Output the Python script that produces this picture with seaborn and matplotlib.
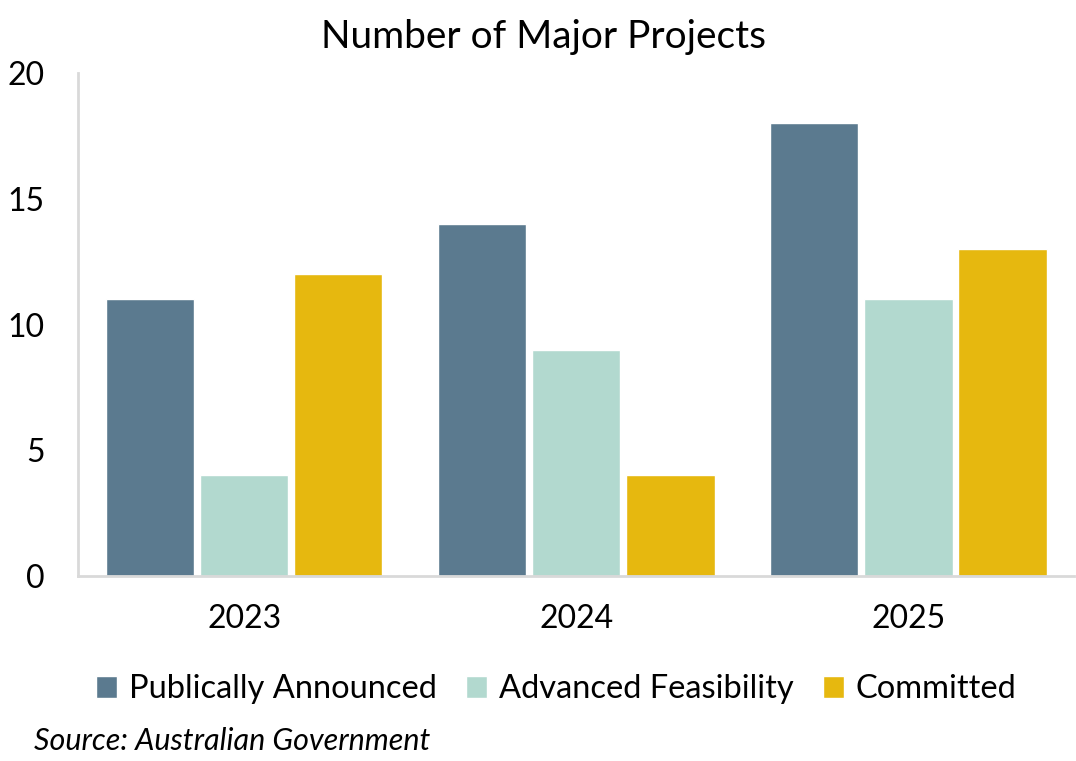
import matplotlib
matplotlib.use('Agg')
import matplotlib.pyplot as plt
import seaborn as sns
import pandas as pd

# data
years = ['2023', '2024', '2025']
publically_announced = [11, 14, 18]
advanced_feasibility = [4, 9, 11]
committed = [12, 4, 13]
series_names = ['Publically Announced', 'Advanced Feasibility', 'Committed']
colors = ['#5b7a8f', '#b2d9cf', '#e6b80f']

rows = []
for name, vals in zip(series_names, [publically_announced, advanced_feasibility, committed]):
    for y, v in zip(years, vals):
        rows.append({'Year': y, 'Stage': name, 'Projects': v})
df = pd.DataFrame(rows)

sns.set_style('white')
plt.rcParams['font.family'] = ['Lato', 'DejaVu Sans']
plt.rcParams['text.color'] = 'black'
plt.rcParams['xtick.color'] = 'black'
plt.rcParams['ytick.color'] = 'black'

fig = plt.figure(figsize=(10.76, 7.61), dpi=100)
ax = fig.add_axes([0.0725, 0.243, 0.926, 0.661])

sns.barplot(data=df, x='Year', y='Projects', hue='Stage', palette=colors,
            width=0.85, gap=0.06, ax=ax, saturation=1, legend=True)

ax.set_ylim(0, 20)
ax.set_xlim(-0.5, 2.5)
ax.set_yticks([0, 5, 10, 15, 20])
ax.set_xlabel('')
ax.set_ylabel('')
ax.tick_params(axis='both', length=0, labelsize=23)
ax.tick_params(axis='x', pad=20)
ax.tick_params(axis='y', pad=24)
for s in ['top', 'right']:
    ax.spines[s].set_visible(False)
for s in ['left', 'bottom']:
    ax.spines[s].set_color('#d9d9d9')
    ax.spines[s].set_linewidth(2)

# title centred on the figure, not the axes
fig.text(0.505, 0.951, 'Number of Major Projects', fontsize=28, ha='center', va='center')

handles, labels = ax.get_legend_handles_labels()
ax.legend(handles, labels, loc='center', bbox_to_anchor=(0.48, -0.225),
          ncol=3, frameon=False, fontsize=23.5, handlelength=0.65, handleheight=0.65,
          handletextpad=0.35, columnspacing=0.9)

fig.text(0.032, 0.014, 'Source: Australian Government', fontsize=22, style='italic')

fig.savefig('out.png', dpi=100)
